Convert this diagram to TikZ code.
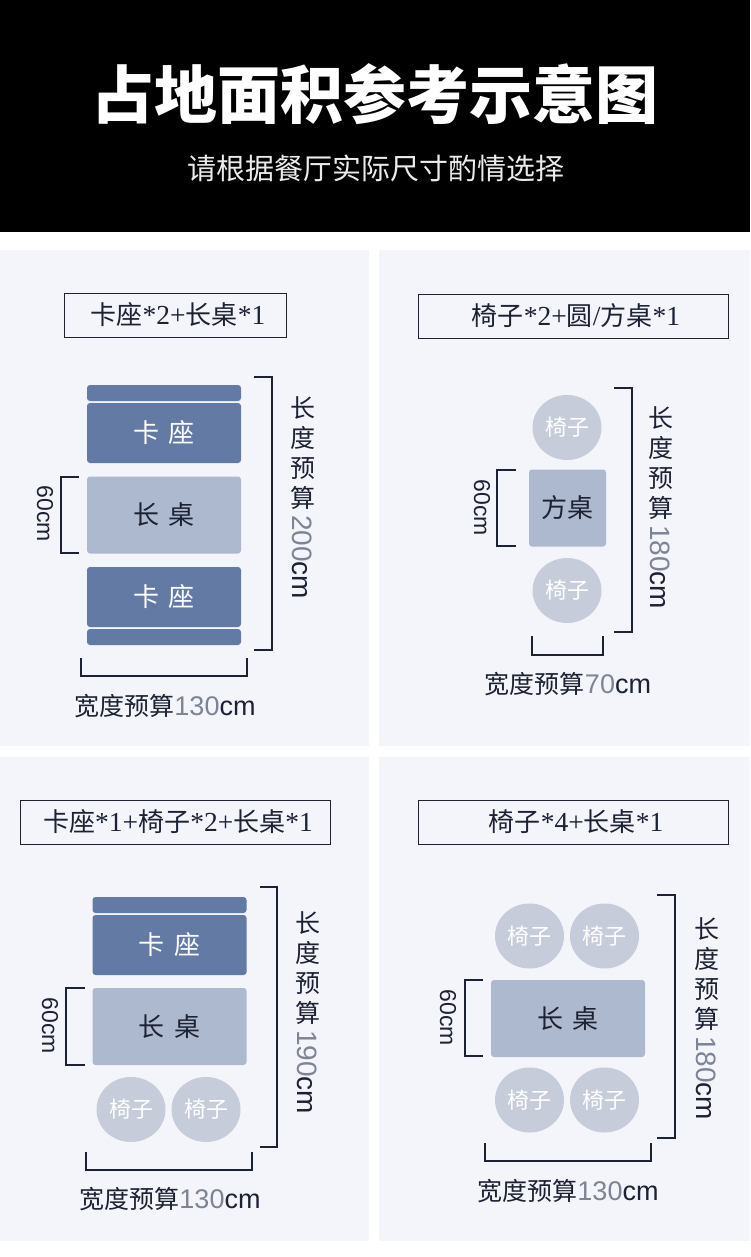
\documentclass[tikz,border=0pt]{standalone}
\usetikzlibrary{shapes.geometric}
\usepackage{fontspec}
\setmainfont{Noto Sans CJK SC}
\newfontfamily\latinsans{Liberation Sans}
\newfontfamily\latinserif{Liberation Serif}

\definecolor{panelbg}{HTML}{F4F5FA}
\definecolor{seatblue}{HTML}{637AA5}
\definecolor{tablegrey}{HTML}{ADB9CF}
\definecolor{chairgrey}{HTML}{C7CCDA}
\definecolor{inkdark}{HTML}{1C2233}
\definecolor{numgrey}{HTML}{7C8496}

\newcommand{\fsize}[1]{\fontsize{#1}{#1}\selectfont}
\newcommand{\budget}[1]{{\latinsans\fsize{27}\textcolor{numgrey}{#1}cm}}
\newcommand{\boxlatin}[1]{{\latinserif\fsize{27.5}#1}}
\newcommand{\lenlabel}[1]{长\\度\\预\\算\\[-22pt]\rotatebox{-90}{{\latinsans\fsize{28}\textcolor{numgrey}{#1}cm}}}
\newcommand{\twochars}[2]{\raisebox{-2pt}{#1\hspace{10pt}#2}}

\tikzset{
  panel/.style={fill=panelbg,draw=none},
  titlebox/.style={draw=inkdark,line width=1pt,inner sep=0pt,text=inkdark,font=\fsize{26},execute at begin node=\hspace*{6pt}},
  seatback/.style={fill=seatblue,rounded corners=3pt,minimum width=154pt,inner sep=0pt},
  seat/.style={seatback,text=white,font=\fsize{26}},
  longtable/.style={fill=tablegrey,rounded corners=3pt,minimum width=154pt,minimum height=77pt,inner sep=0pt,text=inkdark,font=\fsize{26}},
  chair/.style={ellipse,fill=chairgrey,minimum width=69pt,minimum height=65pt,inner sep=0pt,text=white,font=\fsize{22}},
  bracket/.style={draw=inkdark,line width=1.1pt},
  sizelabel/.style={text=inkdark,font=\fsize{25},inner sep=0pt},
  lenlabel/.style={sizelabel,font=\fontsize{25}{30}\selectfont,align=center,anchor=north},
  deplabel/.style={sizelabel,font=\latinsans\fsize{23},rotate=-90},
}

\begin{document}
\begin{tikzpicture}[x=1pt,y=-1pt]
  \useasboundingbox (0,0) rectangle (750,1257);
  \fill[white] (0,0) rectangle (750,1257);
  \fill[black] (0,0) rectangle (750,232);

  \node (title) at (374.5,94) [text=white,inner sep=0pt,font=\fsize{63}\bfseries] {占地面积参考示意图};
  \node (subtitle) at (376,168) [text=white!92!black,inner sep=0pt,font=\fsize{29}] {请根据餐厅实际尺寸酌情选择};

  \fill[panel] (0,250) rectangle (369,746);
  \fill[panel] (379,250) rectangle (750,746);
  \fill[panel] (0,757) rectangle (369,1241);
  \fill[panel] (379,757) rectangle (750,1241);

  % top left
  \node (titleA) at (175,315) [titlebox,minimum width=222pt,minimum height=44pt] {卡座\boxlatin{*2+}长桌\boxlatin{*1}};
  \node (backAa) at (164,393) [seatback,minimum height=16pt] {};
  \node (seatAa) at (164,433) [seat,minimum height=60pt] {\twochars{卡}{座}};
  \node (tableA) at (164,515) [longtable] {\twochars{长}{桌}};
  \node (seatAb) at (164,597) [seat,minimum height=60pt] {\twochars{卡}{座}};
  \node (backAb) at (164,637) [seatback,minimum height=16pt] {};
  \coordinate (lenAa) at (254,377);
  \coordinate (lenAb) at (254,650);
  \coordinate (depAa) at (79,477);
  \coordinate (depAb) at (79,553);
  \coordinate (widAa) at (81,658);
  \coordinate (widAb) at (247,658);
  \draw[bracket] (lenAa) -- ++(18,0) |- (lenAb);
  \draw[bracket] (depAa) -- ++(-18,0) |- (depAb);
  \draw[bracket] (widAa) -- ++(0,18) -| (widAb);
  \node (lenA) at (302.5,396) [lenlabel] {\lenlabel{200}};
  \node (depA) at (45,514) [deplabel] {60cm};
  \node (widA) at (165,706) [sizelabel] {宽度预算\budget{130}};

  % top right
  \node (titleB) at (573,316) [titlebox,minimum width=310pt,minimum height=44pt] {椅子\boxlatin{*2+}圆\boxlatin{/}方桌\boxlatin{*1}};
  \node (chairBa) at (567,427.5) [chair] {椅子};
  \node (tableB) at (567.5,508) [longtable,minimum width=77pt] {\raisebox{-2pt}{方桌}};
  \node (chairBb) at (567,590.5) [chair] {椅子};
  \coordinate (lenBa) at (614,388);
  \coordinate (lenBb) at (614,632);
  \coordinate (depBa) at (516,470);
  \coordinate (depBb) at (516,546);
  \coordinate (widBa) at (532,636);
  \coordinate (widBb) at (603,636);
  \draw[bracket] (lenBa) -- ++(18,0) |- (lenBb);
  \draw[bracket] (depBa) -- ++(-19,0) |- (depBb);
  \draw[bracket] (widBa) -- ++(0,19) -| (widBb);
  \node (lenB) at (660.5,406) [lenlabel] {\lenlabel{180}};
  \node (depB) at (482,508) [deplabel] {60cm};
  \node (widB) at (568,684) [sizelabel] {宽度预算\budget{70}};

  % bottom left
  \node (titleC) at (175,822) [titlebox,minimum width=310pt,minimum height=44pt] {卡座\boxlatin{*1+}椅子\boxlatin{*2+}长桌\boxlatin{*1}};
  \node (backC) at (169.5,905) [seatback,minimum height=16pt] {};
  \node (seatC) at (169.5,945) [seat,minimum height=60pt] {\twochars{卡}{座}};
  \node (tableC) at (169.5,1026.5) [longtable] {\twochars{长}{桌}};
  \node (chairCa) at (131,1109.5) [chair] {椅子};
  \node (chairCb) at (206,1109.5) [chair] {椅子};
  \coordinate (lenCa) at (260,887);
  \coordinate (lenCb) at (260,1147);
  \coordinate (depCa) at (85,988);
  \coordinate (depCb) at (85,1065);
  \coordinate (widCa) at (86,1152);
  \coordinate (widCb) at (252,1152);
  \draw[bracket] (lenCa) -- ++(17,0) |- (lenCb);
  \draw[bracket] (depCa) -- ++(-19,0) |- (depCb);
  \draw[bracket] (widCa) -- ++(0,18) -| (widCb);
  \node (lenC) at (307.5,911) [lenlabel] {\lenlabel{190}};
  \node (depC) at (50,1026) [deplabel] {60cm};
  \node (widC) at (170,1199) [sizelabel] {宽度预算\budget{130}};

  % bottom right
  \node (titleD) at (573,822) [titlebox,minimum width=310pt,minimum height=44pt] {椅子\boxlatin{*4+}长桌\boxlatin{*1}};
  \foreach \x/\n in {529.5/a,604.5/b}{
    \node (chairDt\n) at (\x,936) [chair] {椅子};
    \node (chairDb\n) at (\x,1100) [chair] {椅子};
  }
  \node (tableD) at (568,1018.5) [longtable] {\twochars{长}{桌}};
  \coordinate (lenDa) at (657,895);
  \coordinate (lenDb) at (657,1138);
  \coordinate (depDa) at (483,980);
  \coordinate (depDb) at (483,1056);
  \coordinate (widDa) at (485,1143);
  \coordinate (widDb) at (651,1143);
  \draw[bracket] (lenDa) -- ++(18,0) |- (lenDb);
  \draw[bracket] (depDa) -- ++(-18,0) |- (depDb);
  \draw[bracket] (widDa) -- ++(0,18) -| (widDb);
  \node (lenD) at (706.5,917) [lenlabel] {\lenlabel{180}};
  \node (depD) at (448,1018) [deplabel] {60cm};
  \node (widD) at (568,1191) [sizelabel] {宽度预算\budget{130}};
\end{tikzpicture}
\end{document}
